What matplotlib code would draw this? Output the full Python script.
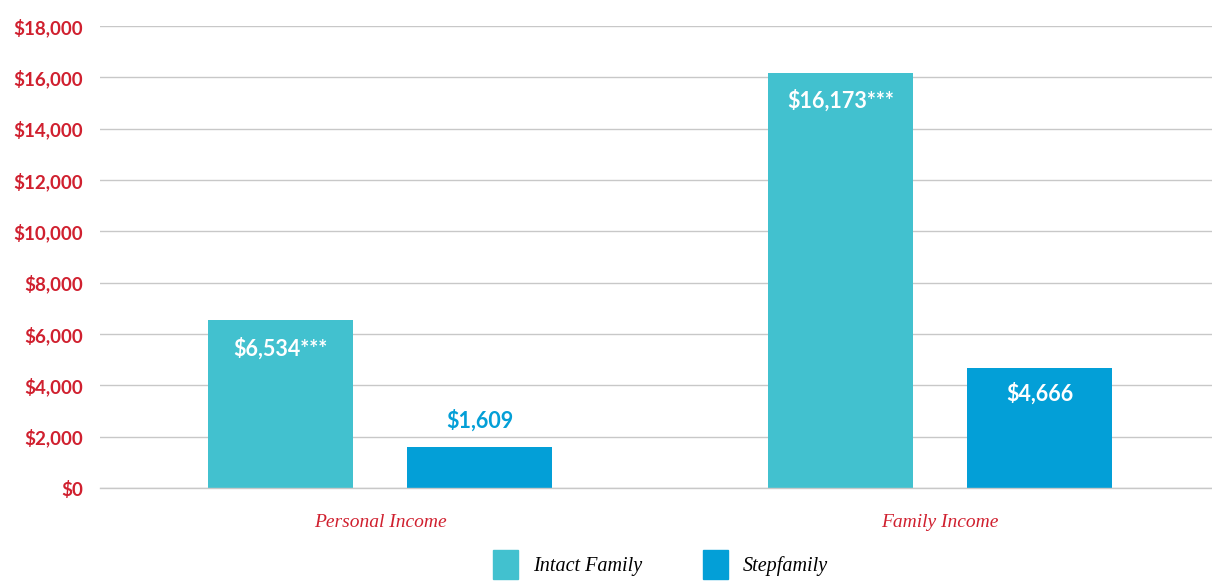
import matplotlib
matplotlib.use("Agg")
import matplotlib.pyplot as plt
from matplotlib.patches import Patch
import numpy as np

categories = ["Personal Income", "Family Income"]
series_names = ["Intact Family", "Stepfamily"]
intact = [6534, 16173]
step = [1609, 4666]
intact_labels = ["$6,534***", "$16,173***"]
step_labels = ["$1,609", "$4,666"]
yticks = [0, 2000, 4000, 6000, 8000, 10000, 12000, 14000, 16000, 18000]

C_INTACT = "#42C1CF"
C_STEP = "#039FD7"
RED = "#D0202F"

fig = plt.figure(figsize=(12.12, 5.81), dpi=100)
ax = fig.add_axes([100/1212, (581-488)/581, 1 - 100/1212, (488-26)/581])

x = np.arange(len(categories))
w = 0.259
off = 0.178
b1 = ax.bar(x - off, intact, w, color=C_INTACT, zorder=3)
b2 = ax.bar(x + off, step, w, color=C_STEP, zorder=3)

ax.set_xlim(-0.5, 1.486)
ax.set_ylim(0, 18000)
ax.set_yticks(yticks)
ax.set_yticklabels([f"${v:,}" for v in yticks], fontfamily="Lato", fontweight="bold",
                   fontsize=13.5, color=RED)
ax.tick_params(axis="y", length=0, pad=12)
ax.tick_params(axis="x", length=0, pad=19)
ax.set_xticks(x)
ax.set_xticklabels(categories, fontfamily="Liberation Serif", fontstyle="italic",
                   fontsize=14, color=RED)
ax.grid(axis="y", color="#c8c8c8", linewidth=1, zorder=0)
ax.axhline(0, color="#c8c8c8", linewidth=1, zorder=4, clip_on=False)
for s in ax.spines.values():
    s.set_visible(False)

for rect, lab in zip(b1, intact_labels):
    ax.annotate(lab, (rect.get_x() + rect.get_width()/2, rect.get_height()),
                xytext=(0, -20), textcoords="offset points", ha="center", va="center",
                color="white", fontfamily="Lato", fontweight="bold", fontsize=15.5, zorder=4)
for i, (rect, lab) in enumerate(zip(b2, step_labels)):
    if i == 0:
        ax.annotate(lab, (rect.get_x() + rect.get_width()/2, rect.get_height()),
                    xytext=(0, 19), textcoords="offset points", ha="center", va="center",
                    color=C_STEP, fontfamily="Lato", fontweight="bold", fontsize=15.5, zorder=4)
    else:
        ax.annotate(lab, (rect.get_x() + rect.get_width()/2, rect.get_height()),
                    xytext=(0, -18), textcoords="offset points", ha="center", va="center",
                    color="white", fontfamily="Lato", fontweight="bold", fontsize=15.5, zorder=4)

handles = [Patch(color=C_INTACT), Patch(color=C_STEP)]
leg = fig.legend(handles, series_names, loc="center", bbox_to_anchor=(0.545, 0.029),
                 ncol=2, frameon=False, handlelength=1.25, handleheight=1.85,
                 columnspacing=3.0, handletextpad=0.75,
                 prop={"family": "Liberation Serif", "style": "italic", "size": 14.5})

fig.savefig("out.png", dpi=100)
